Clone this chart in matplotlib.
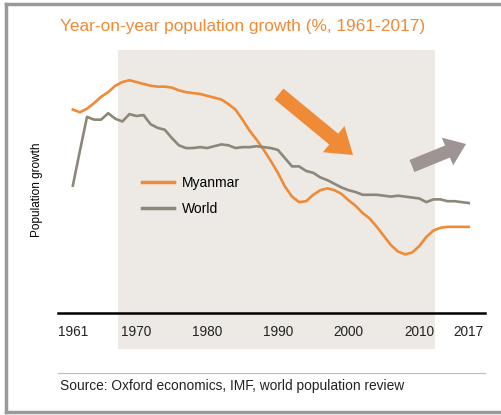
import matplotlib
matplotlib.use("Agg")
import matplotlib.pyplot as plt
from matplotlib.patches import Rectangle, FancyArrow
from matplotlib.lines import Line2D

plt.rcParams['font.family'] = ['Liberation Sans', 'DejaVu Sans']

# year-on-year growth (%)
years = list(range(1961, 2018))
myanmar = [2.22, 2.19, 2.23, 2.29, 2.36, 2.41, 2.48, 2.52, 2.54, 2.52,
           2.50, 2.48, 2.47, 2.47, 2.46, 2.43, 2.41, 2.40, 2.39, 2.37,
           2.35, 2.33, 2.28, 2.22, 2.11, 1.99, 1.89, 1.78, 1.66, 1.53,
           1.38, 1.27, 1.21, 1.22, 1.29, 1.34, 1.36, 1.34, 1.30, 1.23,
           1.17, 1.09, 1.03, 0.94, 0.84, 0.74, 0.67, 0.64, 0.66, 0.73,
           0.83, 0.90, 0.93, 0.94, 0.94, 0.94, 0.94]
world = [1.39, 1.77, 2.14, 2.11, 2.11, 2.18, 2.12, 2.09, 2.17, 2.15,
         2.16, 2.06, 2.02, 2.00, 1.91, 1.83, 1.80, 1.80, 1.81, 1.80,
         1.82, 1.84, 1.83, 1.80, 1.81, 1.81, 1.82, 1.81, 1.80, 1.78,
         1.69, 1.60, 1.60, 1.55, 1.53, 1.48, 1.45, 1.41, 1.37, 1.34,
         1.32, 1.29, 1.29, 1.29, 1.28, 1.27, 1.28, 1.27, 1.26, 1.25,
         1.21, 1.24, 1.24, 1.22, 1.22, 1.21, 1.20]
tick_years = [1961, 1970, 1980, 1990, 2000, 2010, 2017]

orange = '#EF8A36'
grey = '#8C8778'
W, H = 501, 415

fig = plt.figure(figsize=(W / 100, H / 100), dpi=100)

def px(x, y):
    # pixel (from top-left) -> figure fraction
    return x / W, 1 - y / H

# shaded period, behind the axes
x0, y0 = px(118, 349)
x1, y1 = px(435, 50)
fig.patches.append(Rectangle((x0, y0), x1 - x0, y1 - y0, transform=fig.transFigure,
                             facecolor='#EDE9E5', edgecolor='none', zorder=-1))

ax = fig.add_axes([58 / W, 1 - 313 / H, (485 - 58) / W, (313 - 50) / H])
ax.patch.set_alpha(0)
ax.plot(years, myanmar, color=orange, lw=1.9, label='Myanmar')
ax.plot(years, world, color=grey, lw=1.9, label='World')
ax.set_xlim(1958.9, 2019.3)
ax.set_ylim(0, 2.87)
for s in ['top', 'right', 'left']:
    ax.spines[s].set_visible(False)
ax.spines['bottom'].set_linewidth(1.8)
ax.spines['bottom'].set_color('black')
ax.set_yticks([])
ax.set_xticks(tick_years)
ax.set_xticklabels([str(y) for y in tick_years], fontsize=9.8, color='#222222')
ax.tick_params(axis='x', length=0, pad=9)
ax.set_ylabel('Population growth', fontsize=8.5)
ax.yaxis.set_label_coords(-0.035, 0.47)

handles = [Line2D([], [], color=orange, lw=2.5), Line2D([], [], color=grey, lw=2.5)]
ax.legend(handles, ['Myanmar', 'World'], loc='upper left', bbox_to_anchor=(0.168, 0.57),
          frameon=False, fontsize=10, handlelength=2.3, handletextpad=0.55, labelspacing=0.9)

# trend arrows (in inches from bottom-left)
fig.add_artist(FancyArrow(2.79, (H - 94) / 100, 0.74, -0.61, width=0.14, head_width=0.34,
                          head_length=0.25, length_includes_head=True,
                          color='#EF8A36', lw=0, transform=fig.dpi_scale_trans))
fig.add_artist(FancyArrow(4.12, (H - 166) / 100, 0.54, 0.22, width=0.13, head_width=0.30,
                          head_length=0.2, length_includes_head=True,
                          color='#9E9593', lw=0, transform=fig.dpi_scale_trans))

# title and source
fig.text(*px(60, 27), 'Year-on-year population growth (%, 1961-2017)', color=orange,
         fontsize=12.4, va='center', ha='left')
fig.add_artist(Line2D([58 / W, 485 / W], [1 - 373 / H, 1 - 373 / H], color='#BBBBBB', lw=0.8))
fig.text(*px(60, 386), 'Source: Oxford economics, IMF, world population review',
         color='#222222', fontsize=9.9, va='center', ha='left')

# outer frame (left, top, bottom)
fc = '#999999'
fig.add_artist(Line2D([5.5 / W, 5.5 / W], [1 - 4 / H, 1 - 411.5 / H], color=fc, lw=2.5))
fig.add_artist(Line2D([5.5 / W, 1], [1 - 4 / H, 1 - 4 / H], color=fc, lw=2.5))
fig.add_artist(Line2D([5.5 / W, 1], [1 - 411.5 / H, 1 - 411.5 / H], color=fc, lw=2.5))

fig.savefig('out.png', dpi=100, facecolor='white')
